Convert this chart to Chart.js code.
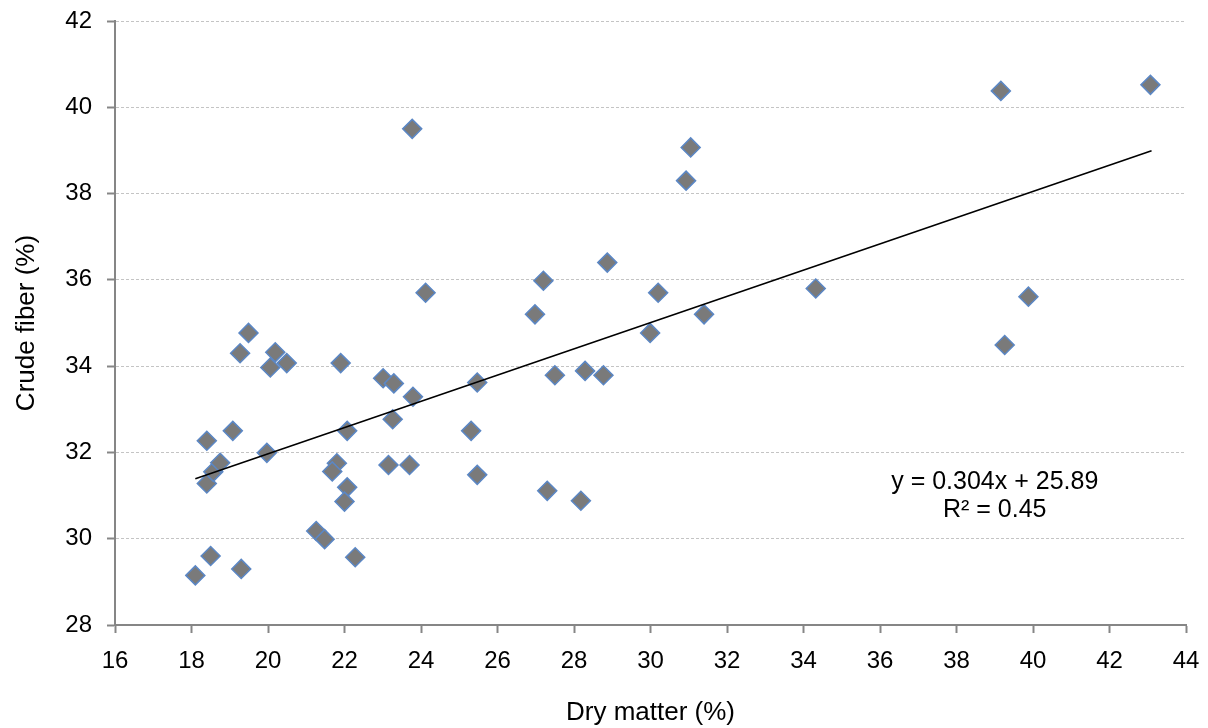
<!DOCTYPE html>
<html>
<head>
<meta charset="utf-8">
<script src="https://cdn.jsdelivr.net/npm/chart.js@4/dist/chart.umd.min.js"></script>
<style>
  body { margin: 0; background: #fff; }
</style>
</head>
<body>
<canvas id="myChart" width="1208" height="728"></canvas>
<script>
// values
var dryMatter = [
  18.1, 18.5, 19.3, 18.4, 18.4, 18.57, 18.75, 19.08, 19.27, 19.49,
  20.19, 20.06, 20.49, 19.97, 21.9, 24.12, 23.01, 23.29, 23.79, 23.26,
  22.07, 21.8, 21.68, 22.07, 22.0, 23.15, 23.7, 21.26, 21.48, 22.28,
  28.87, 27.2, 30.2, 26.98, 31.4, 29.99, 27.5, 28.29, 28.77, 25.47,
  25.31, 25.47, 27.3, 28.18, 23.77, 30.93, 31.05, 34.32, 39.16, 39.26,
  39.88, 43.07
];
var crudeFiber = [
  29.15, 29.6, 29.3, 32.27, 31.28, 31.55, 31.76, 32.5, 34.3, 34.77,
  34.32, 33.97, 34.07, 31.99, 34.07, 35.7, 33.72, 33.6, 33.29, 32.77,
  32.5, 31.75, 31.56, 31.19, 30.86, 31.71, 31.71, 30.18, 29.99, 29.57,
  36.4, 35.98, 35.7, 35.2, 35.2, 34.77, 33.79, 33.89, 33.79, 33.62,
  32.5, 31.48, 31.11, 30.88, 39.5, 38.3, 39.07, 35.8, 40.38, 34.49,
  35.61, 40.52
];
// linear trendline ends
var trendX = [18.1, 43.1];
var trendY = [31.39, 38.99];
var equationLines = ["y = 0.304x + 25.89", "R\u00b2 = 0.45"];

var xMin = 16, xMax = 44, xStep = 2;
var yMin = 28, yMax = 42, yStep = 2;

function toPoints(xs, ys) {
  return xs.map(function (x, i) { return { x: x, y: ys[i] }; });
}

var fontName = "'Liberation Sans', Arial, sans-serif";

var equationLabel = {
  id: "equationLabel",
  afterDatasetsDraw: function (chart) {
    var ctx = chart.ctx;
    var xs = chart.scales.x, ys = chart.scales.y;
    ctx.save();
    ctx.fillStyle = "#000";
    ctx.font = "25px " + fontName;
    ctx.textAlign = "center";
    ctx.textBaseline = "middle";
    var cx = xs.getPixelForValue(39.0);
    ctx.fillText(equationLines[0], cx, ys.getPixelForValue(31.31));
    ctx.fillText(equationLines[1], cx, ys.getPixelForValue(30.66));
    ctx.restore();
  }
};

window.onload = function () {
  var ctx = document.getElementById("myChart").getContext("2d");

  var myChart = new Chart(ctx, {
    type: "scatter",
    data: {
      datasets: [
        {
          label: "Trend",
          type: "line",
          data: toPoints(trendX, trendY),
          borderColor: "#000",
          borderWidth: 1.6,
          pointRadius: 0,
          fill: false,
          order: 0,
        },
        {
          label: "Samples",
          data: toPoints(dryMatter, crudeFiber),
          pointStyle: "rectRot",
          pointRadius: 9.5,
          backgroundColor: "#7a7a7a",
          borderColor: "#5b87c5",
          borderWidth: 1.5,
          order: 1,
        },
      ],
    },
    options: {
      responsive: false,
      animation: false,
      layout: { padding: { top: 21, right: 22, left: 0, bottom: 0 } },
      plugins: {
        legend: { display: false },
        tooltip: { enabled: false },
      },
      scales: {
        x: {
          type: "linear",
          min: xMin,
          max: xMax,
          ticks: { stepSize: xStep, color: "#000", padding: 14, font: { family: fontName, size: 24 } },
          grid: { drawOnChartArea: false, tickLength: 8, tickColor: "#868686", tickWidth: 2 },
          border: { color: "#868686", width: 2 },
          title: {
            display: true,
            text: "Dry matter (%)",
            color: "#000",
            font: { family: fontName, size: 26 },
            padding: { top: 0, bottom: 0 },
          },
          afterFit: function (scale) {
            scale.height = 103;
            scale.paddingLeft = 0;
            scale.paddingRight = 0;
          },
        },
        y: {
          min: yMin,
          max: yMax,
          ticks: { stepSize: yStep, color: "#000", padding: 15, font: { family: fontName, size: 24 } },
          grid: { color: "#c4c4c4", lineWidth: 1, tickLength: 8, tickColor: "#868686", tickWidth: 2 },
          border: { color: "#868686", width: 2, dash: [3, 2] },
          title: {
            display: true,
            text: "Crude fiber (%)",
            color: "#000",
            font: { family: fontName, size: 26 },
            padding: { top: 11, bottom: 11 },
          },
          afterFit: function (scale) {
            scale.width = 115;
            scale.paddingTop = 0;
            scale.paddingBottom = 0;
          },
        },
      },
    },
    plugins: [equationLabel],
  });
};
</script>
</body>
</html>
